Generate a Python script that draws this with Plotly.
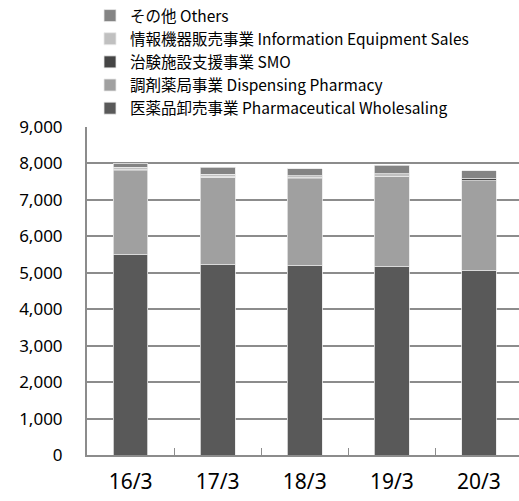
import plotly.graph_objects as go

categories = ["16/3", "17/3", "18/3", "19/3", "20/3"]
wholesale = [5490, 5220, 5190, 5160, 5050]
dispensing = [2305, 2400, 2385, 2470, 2480]
smo = [35, 30, 45, 20, 45]
info = [65, 60, 45, 65, 10]
others = [90, 185, 185, 230, 210]
y_ticks = [0, 1000, 2000, 3000, 4000, 5000, 6000, 7000, 8000, 9000]

series = [
    ("医薬品卸売事業 Pharmaceutical Wholesaling", wholesale, "#595959"),
    ("調剤薬局事業 Dispensing Pharmacy", dispensing, "#a0a0a0"),
    ("治験施設支援事業 SMO", smo, "#454545"),
    ("情報機器販売事業 Information Equipment Sales", info, "#c0c0c0"),
    ("その他 Others", others, "#848484"),
]

fig = go.Figure()
for name, vals, color in series:
    fig.add_trace(go.Bar(
        x=categories, y=vals, name=name,
        marker=dict(color=color, line=dict(color="#e8e8e8", width=0.8)),
    ))

W, H = 519, 501
T, B = 127, 46
plot_h = H - T - B
font_fam = "Noto Sans, Noto Sans CJK JP, sans-serif"
fig.update_layout(
    width=W, height=H,
    barmode="stack", bargap=0.6,
    plot_bgcolor="white", paper_bgcolor="white",
    margin=dict(l=87, r=0, t=T, b=B, autoexpand=False),
    font=dict(family=font_fam, color="#000000"),
    showlegend=True,
    legend=dict(
        traceorder="reversed",
        xref="container", yref="paper",
        x=90 / W, y=1 + (T + 1) / plot_h, xanchor="left", yanchor="top",
        font=dict(size=15.5, family="Noto Sans CJK JP, Noto Sans, sans-serif"),
        itemwidth=30, tracegroupgap=0,
        bgcolor="rgba(0,0,0,0)",
    ),
    xaxis=dict(
        range=[-0.5, 4.46],
        automargin=False,
        showline=True, linecolor="#8c8c8c", linewidth=2,
        ticks="inside", tickson="boundaries", ticklen=7, tickcolor="#8c8c8c", tickwidth=1,
        tickfont=dict(size=21, color="#000000"),
        ticklabelstandoff=7,
        showgrid=False,
    ),
    yaxis=dict(
        range=[0, 9000],
        automargin=False,
        tickvals=y_ticks,
        tickformat=",d",
        showline=True, linecolor="#8c8c8c", linewidth=2,
        showgrid=True, gridcolor="#8c8c8c", gridwidth=2,
        zeroline=False,
        tickfont=dict(size=17, color="#000000"),
        ticklabelstandoff=19,
    ),
)

fig.write_html("out.html", config={"displayModeBar": False},
               post_script="document.body.style.margin='0';")
